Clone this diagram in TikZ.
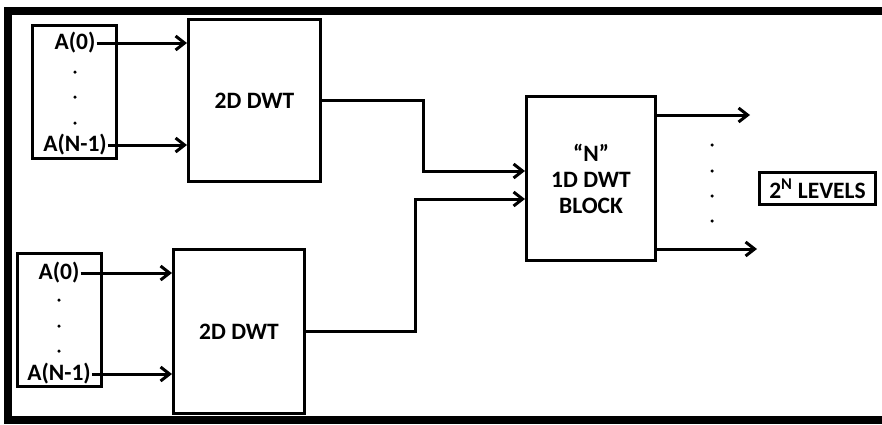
\documentclass[tikz,border=0pt]{standalone}
\usepackage{fontspec}
\setmainfont{Carlito}
\usetikzlibrary{arrows.meta}

\tikzset{
  blockbox/.style={draw, line width=3pt, inner sep=0pt, align=center},
  lbl/.style={inner sep=1pt},
  smalldot/.style={circle, fill, inner sep=0pt, minimum size=3.5pt},
  wire/.style={line width=3pt},
  feed/.style={wire, -{Straight Barb[length=9pt,width=14pt]}}
}

\begin{document}
\begin{tikzpicture}[x=1pt, y=-1pt, font=\fontsize{23.5}{26}\selectfont\bfseries]
\useasboundingbox (0,0) rectangle (882,424);
% outer frame round the whole figure
\draw[line width=8pt] (8,11) rectangle (887,420);

% first group of inputs and its 2D DWT
\node[blockbox, minimum width=84pt, minimum height=133pt] (grpA) at (74.5,92) {};
\node[lbl] (aZero) at (75,43) {A(0)};
\node[lbl] (aLast) at (75,145) {A(N-1)};
\node[smalldot] (da1) at (75,72) {};
\node[smalldot] (da2) at (75,97) {};
\node[smalldot] (da3) at (75,123) {};
\node[blockbox, minimum width=132pt, minimum height=162pt] (dwtA) at (254.5,100.5) {2D DWT};

% second group of inputs and its 2D DWT
\node[blockbox, minimum width=84pt, minimum height=133pt] (grpB) at (59.5,320) {};
\node[lbl] (bZero) at (59,273) {A(0)};
\node[lbl] (bLast) at (59,374) {A(N-1)};
\node[smalldot] (db1) at (59,300) {};
\node[smalldot] (db2) at (59,326) {};
\node[smalldot] (db3) at (59,351) {};
\node[blockbox, minimum width=131pt, minimum height=164pt] (dwtB) at (239,331.5) {2D DWT};

% the 1D block and the levels it gives
\node[blockbox, minimum width=129pt, minimum height=164pt] (oneD) at (591,178.5)
  {``N''\\1D DWT\\BLOCK};
\node[blockbox, minimum width=116pt, minimum height=32pt] (levels) at (817.5,188.5)
  {2\textsuperscript{N} LEVELS};
\node[smalldot] (do1) at (712,145) {};
\node[smalldot] (do2) at (712,171) {};
\node[smalldot] (do3) at (712,196) {};
\node[smalldot] (do4) at (712,221) {};

% ends of the wires
\coordinate (inTop) at (525,171);
\coordinate (inBot) at (525,199);
\coordinate (outTop) at (750,115);
\coordinate (outBot) at (757,249);

% inputs into the 2D blocks
\draw[feed] (aZero.east) -- (dwtA.west |- aZero.east);
\draw[feed] (aLast.east) -- (dwtA.west |- aLast.east);
\draw[feed] (bZero.east) -- (dwtB.west |- bZero.east);
\draw[feed] (bLast.east) -- (dwtB.west |- bLast.east);

% 2D blocks into the 1D block
\draw[feed] (dwtA.east) -| (423,171) -- (inTop);
\draw[feed] (dwtB.east) -| (415,199) -- (inBot);

% outputs
\draw[feed] (oneD.east |- outTop) -- (outTop);
\draw[feed] (oneD.east |- outBot) -- (outBot);
\end{tikzpicture}
\end{document}
